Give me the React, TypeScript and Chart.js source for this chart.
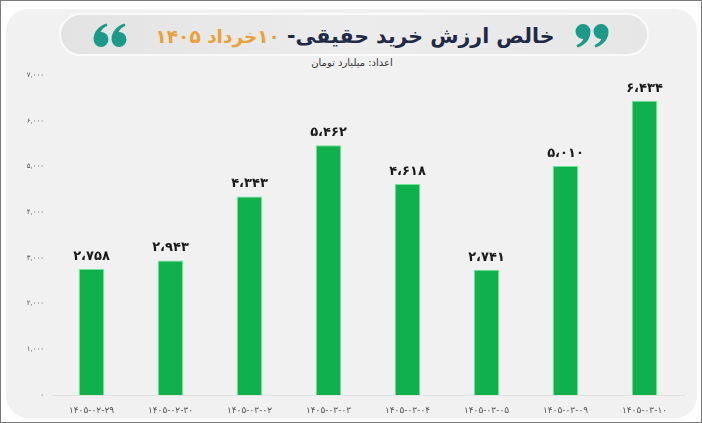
import React, { useEffect, useRef } from "react";
import { Chart, registerables } from "chart.js";

Chart.register(...registerables);

const categories = [
  "۱۴۰۵-۰۲-۲۹",
  "۱۴۰۵-۰۲-۳۰",
  "۱۴۰۵-۰۳-۰۲",
  "۱۴۰۵-۰۳-۰۳",
  "۱۴۰۵-۰۳-۰۴",
  "۱۴۰۵-۰۳-۰۵",
  "۱۴۰۵-۰۳-۰۹",
  "۱۴۰۵-۰۳-۱۰",
];
const values = [2758, 2943, 4343, 5462, 4618, 2741, 5010, 6434];
const yTicks = [0, 1000, 2000, 3000, 4000, 5000, 6000, 7000];

const titleMain = "خالص ارزش خرید حقیقی- ";
const titleDate = "۱۰خرداد ۱۴۰۵";
const subtitle = "اعداد: میلیارد تومان";

const faDigits = "۰۱۲۳۴۵۶۷۸۹";
function toFa(n: number, sep: string): string {
  const s = Math.round(n).toString().replace(/\B(?=(\d{3})+(?!\d))/g, sep);
  return s.replace(/\d/g, (d) => faDigits[Number(d)]);
}

const FONT = "'DejaVu Sans', sans-serif";

const valueLabels = {
  id: "valueLabels",
  afterDatasetsDraw(chart: any) {
    const ctx = chart.ctx;
    const meta = chart.getDatasetMeta(0);
    ctx.save();
    ctx.fillStyle = "#1a1a1a";
    ctx.font = `bold 13px ${FONT}`;
    ctx.textAlign = "center";
    ctx.textBaseline = "bottom";
    meta.data.forEach((el: any, i: number) => {
      ctx.fillText(toFa(values[i], "،"), el.x, el.y - 6);
    });
    ctx.restore();
  },
};

const NINE =
  "M0.5 7.5 A7.5 7.5 0 1 1 15.5 7.5 C15.5 15 10.5 21 2.5 23.5 L1.5 21.2 C5 19.5 7.5 17.5 8.3 15 A7.5 7.5 0 0 1 0.5 7.5 Z";

function Quotes({ left, top, six }: { left: number; top: number; six?: boolean }) {
  return (
    <svg
      style={{ position: "absolute", left, top }}
      width={34}
      height={24}
      viewBox="0 0 34 24"
    >
      <g transform={six ? "rotate(180 17 12)" : undefined} fill="#1b9a8a">
        <path d={NINE} />
        <path d={NINE} transform="translate(18 0)" />
      </g>
    </svg>
  );
}

export default function App() {
  const ref = useRef<HTMLCanvasElement | null>(null);

  useEffect(() => {
    document.body.style.margin = "0";
    if (!ref.current) return;
    const chart = new Chart(ref.current, {
      type: "bar",
      data: {
        labels: categories,
        datasets: [
          {
            data: values,
            backgroundColor: "#10b14c",
            borderColor: "#6fe495",
            borderWidth: 1,
            barPercentage: 0.32,
            categoryPercentage: 1,
          },
        ],
      },
      options: {
        animation: false,
        responsive: false,
        maintainAspectRatio: false,
        layout: { padding: { left: 0, right: 19, top: 74, bottom: 0 } },
        plugins: {
          legend: { display: false },
          tooltip: { enabled: false },
        },
        scales: {
          x: {
            grid: { display: false, drawTicks: false },
            border: { display: true, color: "#e2e2e2", width: 1 },
            ticks: {
              color: "#555",
              font: { size: 9, family: FONT },
              padding: 10,
              maxRotation: 0,
              autoSkip: false,
            },
            afterFit: (s: any) => {
              s.height = 29;
            },
          },
          y: {
            min: 0,
            max: 7000,
            grid: { display: false, drawTicks: false },
            border: { display: false },
            afterBuildTicks: (s: any) => {
              s.ticks = yTicks.map((v) => ({ value: v }));
            },
            ticks: {
              color: "#555",
              font: { size: 7, family: FONT },
              padding: 8,
              callback: (v: any) => toFa(Number(v), ","),
            },
            afterFit: (s: any) => {
              s.width = 51;
            },
          },
        },
      },
      plugins: [valueLabels],
    });
    return () => chart.destroy();
  }, []);

  return (
    <div
      style={{
        position: "fixed",
        left: 0,
        top: 0,
        width: 702,
        height: 423,
        background: "#ffffff",
        boxSizing: "border-box",
        border: "1.5px solid #7a7a7a",
        overflow: "hidden",
        fontFamily: FONT,
      }}
    >
      <div
        style={{
          position: "absolute",
          left: 5,
          top: 8,
          right: 4,
          bottom: 4,
          background: "#f1f1f1",
          borderRadius: 22,
        }}
      />
      <div
        style={{
          position: "absolute",
          left: 58,
          top: 12,
          width: 590,
          height: 43,
          borderRadius: 24,
          background: "linear-gradient(90deg, #e3e3e3 0%, #ececec 50%, #e6e6e6 100%)",
          border: "2px solid #fafafa",
          boxSizing: "border-box",
        }}
      />
      <Quotes left={92} top={22} six />
      <Quotes left={574} top={23} />
      <div
        dir="rtl"
        style={{
          position: "absolute",
          left: 0,
          width: 702,
          top: 19,
          textAlign: "center",
          fontWeight: "bold",
          fontSize: 20.5,
          lineHeight: "32px",
          color: "#1e2a47",
          whiteSpace: "nowrap",
          paddingLeft: 6,
          boxSizing: "border-box",
        }}
      >
        {titleMain}
        <span style={{ color: "#e9a13a", fontSize: 18.5 }}>{titleDate}</span>
      </div>
      <div
        dir="rtl"
        style={{
          position: "absolute",
          left: 0,
          width: 702,
          top: 55,
          textAlign: "center",
          fontSize: 10,
          lineHeight: "14px",
          color: "#333",
        }}
      >
        {subtitle}
      </div>
      <canvas
        ref={ref}
        width={702}
        height={423}
        style={{ position: "absolute", left: 0, top: 0, width: 702, height: 423 }}
      />
    </div>
  );
}
